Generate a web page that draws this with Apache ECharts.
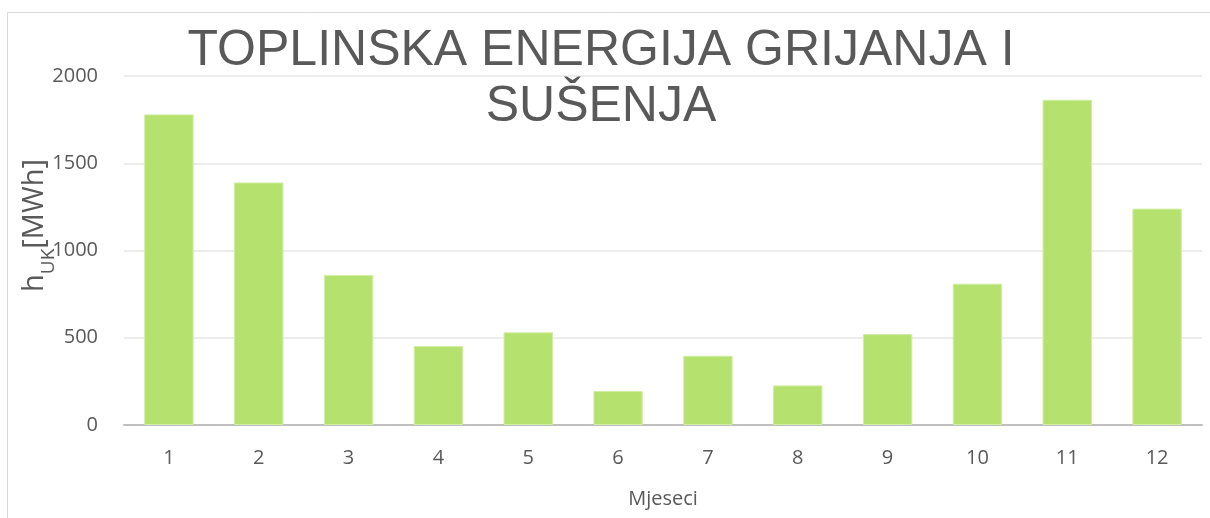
<!DOCTYPE html>
<html>
<head>
<meta charset="utf-8">
<script src="https://cdn.jsdelivr.net/npm/echarts@6/dist/echarts.min.js"></script>
<style>
  html, body { margin: 0; padding: 0; background: #fff; }
  #chart { width: 1210px; height: 518px; }
</style>
</head>
<body>
<div id="chart"></div>
<script>
const months = ['1', '2', '3', '4', '5', '6', '7', '8', '9', '10', '11', '12']
const heatEnergy = [1780, 1390, 860, 453, 531, 195, 397, 227, 521, 810, 1864, 1240]

const BAR_COLOR = '#b5e16e'
const TEXT_COLOR = '#595959'

const chart = echarts.init(document.getElementById('chart'), null, { renderer: 'canvas' })

chart.setOption({
  backgroundColor: '#fff',
  animation: false,
  title: {
    text: 'TOPLINSKA ENERGIJA GRIJANJA I\nSUŠENJA',
    left: 596,
    top: 18,
    textAlign: 'center',
    textStyle: {
      fontFamily: 'Liberation Sans',
      fontWeight: 'normal',
      fontSize: 50,
      lineHeight: 56,
      color: TEXT_COLOR
    }
  },
  graphic: [
    {
      type: 'rect',
      shape: { x: 7.5, y: 12.5, width: 1220, height: 520 },
      style: { fill: 'none', stroke: '#d9d9d9', lineWidth: 1 },
      silent: true
    }
  ],
  grid: { left: 124, right: 8, top: 76, bottom: 93, containLabel: false, outerBoundsMode: 'none' },
  xAxis: {
    type: 'category',
    data: months,
    name: 'Mjeseci',
    nameLocation: 'middle',
    nameGap: 64,
    nameTextStyle: { fontFamily: 'Open Sans', fontSize: 20, color: TEXT_COLOR },
    axisLine: { lineStyle: { color: '#bfbfbf', width: 2 } },
    axisTick: { show: false },
    axisLabel: { fontFamily: 'Open Sans', fontSize: 20, color: TEXT_COLOR, margin: 23 }
  },
  yAxis: {
    type: 'value',
    min: 0,
    max: 2000,
    interval: 500,
    name: '{a|h}{b|UK}{a|[MWh]}',
    nameLocation: 'middle',
    nameGap: 75,
    nameRotate: 90,
    nameMoveOverlap: false,
    nameTextStyle: {
      padding: [0, 0, 0, 50],
      rich: {
        a: { fontFamily: 'Open Sans', fontSize: 29, color: TEXT_COLOR, verticalAlign: 'bottom', lineHeight: 34 },
        b: { fontFamily: 'Open Sans', fontSize: 19, color: TEXT_COLOR, verticalAlign: 'bottom', lineHeight: 24, padding: [0, 0, -9, 0] }
      }
    },
    axisLine: { show: false },
    axisTick: { show: false },
    axisLabel: { fontFamily: 'Open Sans', fontSize: 20, color: TEXT_COLOR, margin: 26, formatter: (v) => String(v) },
    splitLine: { lineStyle: { color: '#ececec', width: 2 } }
  },
  series: [
    {
      type: 'bar',
      data: heatEnergy,
      barWidth: '55%',
      itemStyle: { color: BAR_COLOR, borderColor: '#d2eea4', borderWidth: 1 }
    }
  ]
})
</script>
</body>
</html>
